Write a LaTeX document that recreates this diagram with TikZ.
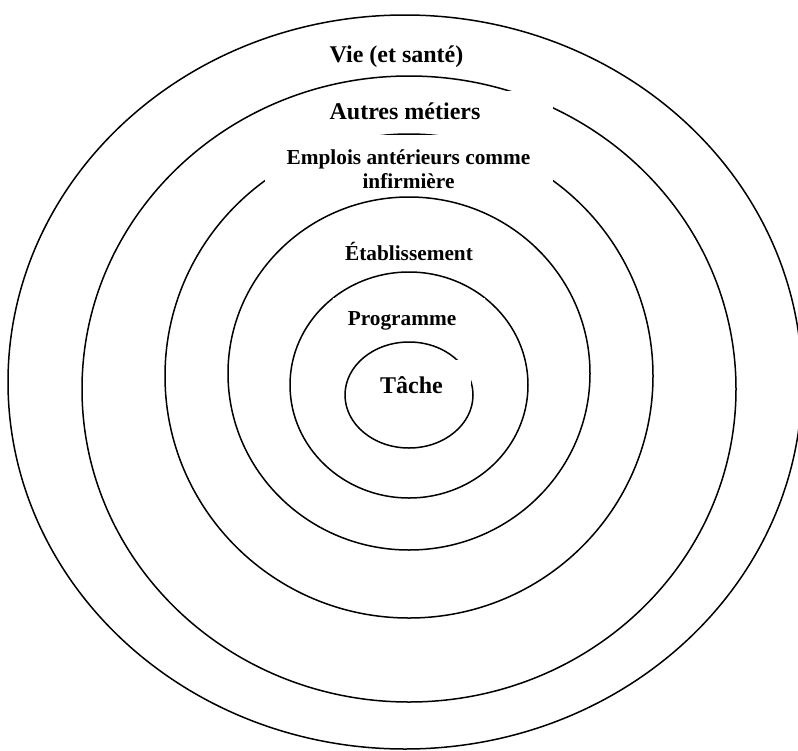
\documentclass[tikz,border=0pt]{standalone}
\usepackage{fontspec}
\setmainfont{Liberation Serif}
\begin{document}
\begin{tikzpicture}[x=1pt,y=-1pt,
  ring/.style={draw=black,line width=1.5pt},
  mask/.style={fill=white,draw=none},
  lbl/.style={inner sep=0pt,anchor=base},
  big/.style={font=\bfseries\fontsize{24}{28}\selectfont},
  small/.style={font=\bfseries\fontsize{21.3}{24}\selectfont}]
\useasboundingbox (0,0) rectangle (798,750);
\fill[white] (0,0) rectangle (798,750);
% rings, outermost first
\draw[ring] (405,382) ellipse [x radius=397, y radius=367];
\draw[ring] (409,389) ellipse [x radius=327, y radius=313];
\draw[ring] (409,376) ellipse [x radius=244, y radius=242];
\draw[ring] (409,373.5) ellipse [x radius=181, y radius=176.5];
\draw[ring] (409,385) ellipse [x radius=119, y radius=113];
\draw[ring] (409,395) ellipse [x radius=64, y radius=53];
% white label boxes hiding parts of the rings
\fill[mask] (322,91) rectangle (553,132);
\fill[mask] (265,134.9) rectangle (553,192);
\fill[mask] (333,297.5) rectangle (485,338);
\fill[mask] (368,360) rectangle (471,404);
% labels
\node[lbl,big] (vie) at (396.5,62) {Vie (et santé)};
\node[lbl,big] (autres) at (405,119) {Autres métiers};
\node[lbl,small] (emplois1) at (408.5,164) {Emplois antérieurs comme};
\node[lbl,small] (emplois2) at (408.5,188) {infirmière};
\node[lbl,small] (etab) at (409,260.5) {Établissement};
\node[lbl,small] (prog) at (402,325.5) {Programme};
\node[lbl,big] (tache) at (411.5,393) {Tâche};
\end{tikzpicture}
\end{document}
